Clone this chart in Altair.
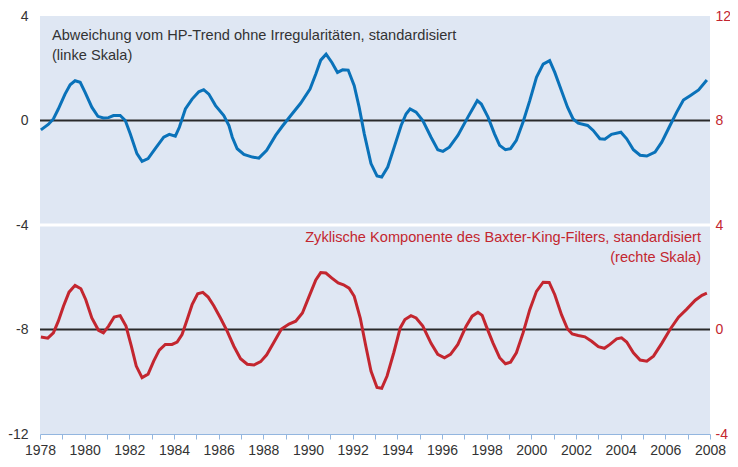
import altair as alt
import pandas as pd

# HP-trend deviation (left scale)
blue_years = [1978.04, 1978.37, 1978.60, 1978.82, 1979.12, 1979.35, 1979.57, 1979.80, 1980.02, 1980.32,
              1980.59, 1980.84, 1981.07, 1981.29, 1981.59, 1981.82, 1982.04, 1982.34, 1982.57, 1982.84,
              1983.16, 1983.54, 1983.79, 1984.06, 1984.24, 1984.51, 1984.81, 1985.11, 1985.33, 1985.56,
              1985.86, 1986.23, 1986.46, 1986.61, 1986.83, 1987.13, 1987.51, 1987.80, 1988.15, 1988.55,
              1988.85, 1989.23, 1989.67, 1990.09, 1990.35, 1990.57, 1990.81, 1991.07, 1991.32, 1991.55,
              1991.80, 1992.07, 1992.29, 1992.52, 1992.82, 1993.09, 1993.30, 1993.57, 1993.86, 1994.17,
              1994.39, 1994.57, 1994.84, 1995.14, 1995.51, 1995.81, 1996.04, 1996.33, 1996.71, 1997.16,
              1997.58, 1997.76, 1998.06, 1998.35, 1998.58, 1998.84, 1999.07, 1999.33, 1999.63, 1999.93,
              2000.23, 2000.53, 2000.82, 2001.05, 2001.35, 2001.62, 2001.87, 2002.10, 2002.52, 2002.77,
              2003.07, 2003.29, 2003.59, 2004.01, 2004.27, 2004.57, 2004.87, 2005.17, 2005.54, 2005.84,
              2006.21, 2006.51, 2006.81, 2007.11, 2007.49, 2007.86]
blue_values = [-0.36, -0.15, 0.06, 0.44, 1.01, 1.37, 1.52, 1.46, 1.08, 0.51,
               0.16, 0.10, 0.11, 0.19, 0.19, 0.00, -0.51, -1.27, -1.56, -1.46,
               -1.08, -0.64, -0.53, -0.60, -0.26, 0.44, 0.82, 1.10, 1.18, 1.01,
               0.57, 0.19, -0.19, -0.64, -1.08, -1.30, -1.40, -1.44, -1.14, -0.57,
               -0.22, 0.19, 0.66, 1.20, 1.78, 2.31, 2.54, 2.22, 1.84, 1.94,
               1.93, 1.33, 0.51, -0.51, -1.65, -2.12, -2.16, -1.78, -1.02, -0.19,
               0.25, 0.44, 0.32, 0.00, -0.64, -1.12, -1.18, -1.02, -0.57, 0.13,
               0.76, 0.63, 0.13, -0.51, -0.95, -1.12, -1.08, -0.76, -0.06, 0.76,
               1.65, 2.16, 2.29, 1.84, 1.14, 0.51, 0.06, -0.10, -0.19, -0.38,
               -0.70, -0.72, -0.53, -0.45, -0.70, -1.12, -1.33, -1.36, -1.21, -0.83,
               -0.19, 0.32, 0.78, 0.95, 1.17, 1.55]

# Baxter-King cyclical component (right scale)
red_years = [1978.04, 1978.35, 1978.60, 1978.82, 1979.05, 1979.30, 1979.57, 1979.83, 1980.05, 1980.32,
             1980.62, 1980.84, 1981.07, 1981.32, 1981.59, 1981.85, 1982.09, 1982.31, 1982.57, 1982.84,
             1983.09, 1983.34, 1983.61, 1983.91, 1984.14, 1984.36, 1984.59, 1984.81, 1985.06, 1985.29,
             1985.53, 1985.78, 1986.08, 1986.38, 1986.68, 1986.98, 1987.28, 1987.58, 1987.88, 1988.15,
             1988.48, 1988.81, 1989.15, 1989.45, 1989.75, 1990.05, 1990.35, 1990.57, 1990.80, 1991.07,
             1991.35, 1991.59, 1991.84, 1992.07, 1992.34, 1992.59, 1992.82, 1993.09, 1993.30, 1993.54,
             1993.84, 1994.13, 1994.34, 1994.61, 1994.84, 1995.14, 1995.51, 1995.81, 1996.11, 1996.38,
             1996.71, 1997.08, 1997.35, 1997.61, 1997.80, 1997.98, 1998.28, 1998.58, 1998.84, 1999.07,
             1999.33, 1999.63, 1999.93, 2000.23, 2000.53, 2000.80, 2001.05, 2001.35, 2001.62, 2001.83,
             2002.10, 2002.40, 2002.70, 2003.00, 2003.27, 2003.52, 2003.82, 2004.04, 2004.27, 2004.57,
             2004.87, 2005.17, 2005.47, 2005.84, 2006.21, 2006.59, 2006.96, 2007.34, 2007.64, 2007.86]
red_values = [-0.29, -0.33, -0.13, 0.32, 0.89, 1.43, 1.69, 1.56, 1.14, 0.44,
              -0.03, -0.13, 0.13, 0.48, 0.53, 0.13, -0.64, -1.40, -1.84, -1.71,
              -1.21, -0.79, -0.57, -0.57, -0.48, -0.19, 0.38, 0.95, 1.37, 1.42,
              1.24, 0.91, 0.44, -0.06, -0.64, -1.12, -1.33, -1.36, -1.23, -0.97,
              -0.48, 0.02, 0.21, 0.32, 0.63, 1.27, 1.90, 2.18, 2.16, 1.97,
              1.78, 1.71, 1.58, 1.27, 0.44, -0.64, -1.59, -2.22, -2.25, -1.78,
              -0.89, 0.06, 0.38, 0.53, 0.44, 0.13, -0.53, -0.95, -1.08, -0.95,
              -0.57, 0.13, 0.51, 0.66, 0.54, 0.13, -0.51, -1.08, -1.31, -1.25,
              -0.89, -0.13, 0.76, 1.46, 1.81, 1.80, 1.33, 0.57, 0.02, -0.17,
              -0.23, -0.28, -0.45, -0.66, -0.72, -0.57, -0.36, -0.32, -0.48, -0.89,
              -1.17, -1.21, -1.02, -0.53, 0.00, 0.47, 0.78, 1.12, 1.31, 1.39]

left_ticks = [-12, -8, -4, 0, 4]
right_ticks = [-4, 0, 4, 8, 12]
year_ticks = list(range(1978, 2009))
ref_levels = [0, -8]      # dark reference lines (left scale)
panel_split = [-4]        # white separator (left scale)

blue_label = ["Abweichung vom HP-Trend ohne Irregularitäten, standardisiert", "(linke Skala)"]
red_label = ["Zyklische Komponente des Baxter-King-Filters, standardisiert", "(rechte Skala)"]

BLUE = "#0a72b9"
RED = "#c3262f"
GREY = "#333333"
FONT = "Liberation Sans"

blue_df = pd.DataFrame({"year": blue_years, "value": blue_values})
red_df = pd.DataFrame({"year": red_years, "value": red_values})
ref_df = pd.DataFrame({"level": ref_levels})
split_df = pd.DataFrame({"level": panel_split})

x_scale = alt.Scale(domain=[1978, 2008], nice=False, zero=False)
x_axis = alt.Axis(values=year_ticks, format="d",
                  labelExpr="datum.value % 2 == 0 ? datum.label : ''",
                  title=None, grid=False, labelFlush=False, labelOverlap=False,
                  domainColor="#93b6df", tickColor="#93b6df", tickSize=5,
                  labelPadding=4, labelColor=GREY)
left_scale = alt.Scale(domain=[-12, 4], nice=False, zero=False)
right_scale = alt.Scale(domain=[-4, 12], nice=False, zero=False)
left_axis = alt.Axis(values=left_ticks, title=None, grid=False, domain=False,
                     ticks=False, labelPadding=12, labelColor=GREY,
                     labelExpr="'' + datum.value")
right_axis = alt.Axis(orient="right", values=right_ticks, title=None, grid=False,
                      domain=False, ticks=False, labelPadding=5, labelColor=RED,
                      labelExpr="'' + datum.value")

split_rule = alt.Chart(split_df).mark_rule(color="white", strokeWidth=3).encode(
    y=alt.Y("level:Q", scale=left_scale, axis=left_axis)
)
ref_rules = alt.Chart(ref_df).mark_rule(color="#2a2a2a", strokeWidth=2).encode(
    y=alt.Y("level:Q", scale=left_scale, axis=left_axis)
)
blue_line = alt.Chart(blue_df).mark_line(color=BLUE, strokeWidth=3).encode(
    x=alt.X("year:Q", scale=x_scale, axis=x_axis),
    y=alt.Y("value:Q", scale=left_scale, axis=left_axis)
)
left_layer = alt.layer(split_rule, ref_rules, blue_line)

red_line = alt.Chart(red_df).mark_line(color=RED, strokeWidth=3).encode(
    x=alt.X("year:Q", scale=x_scale, axis=x_axis),
    y=alt.Y("value:Q", scale=right_scale, axis=right_axis)
)

blue_text = alt.Chart(pd.DataFrame({"t": [0]})).mark_text(
    text=blue_label, align="left", baseline="alphabetic", fontSize=14.6,
    font=FONT, color=GREY, lineHeight=20
).encode(x=alt.value(12), y=alt.value(24))

red_text = alt.Chart(pd.DataFrame({"t": [0]})).mark_text(
    text=red_label, align="right", baseline="alphabetic", fontSize=14.6,
    font=FONT, color=RED, lineHeight=20
).encode(x=alt.value(661), y=alt.value(226))

chart = alt.layer(left_layer, red_line, blue_text, red_text).resolve_scale(
    y="independent"
).properties(
    width=670, height=418,
    autosize=alt.AutoSizeParams(type="none"),
    padding={"left": 32, "top": 8, "right": 20, "bottom": 25},
).configure_view(
    fill="#dfe7f3", stroke=None
).configure_axis(
    labelFont=FONT, labelFontSize=14
)

chart.save("out.html", embed_options={"renderer": "svg", "actions": False})
